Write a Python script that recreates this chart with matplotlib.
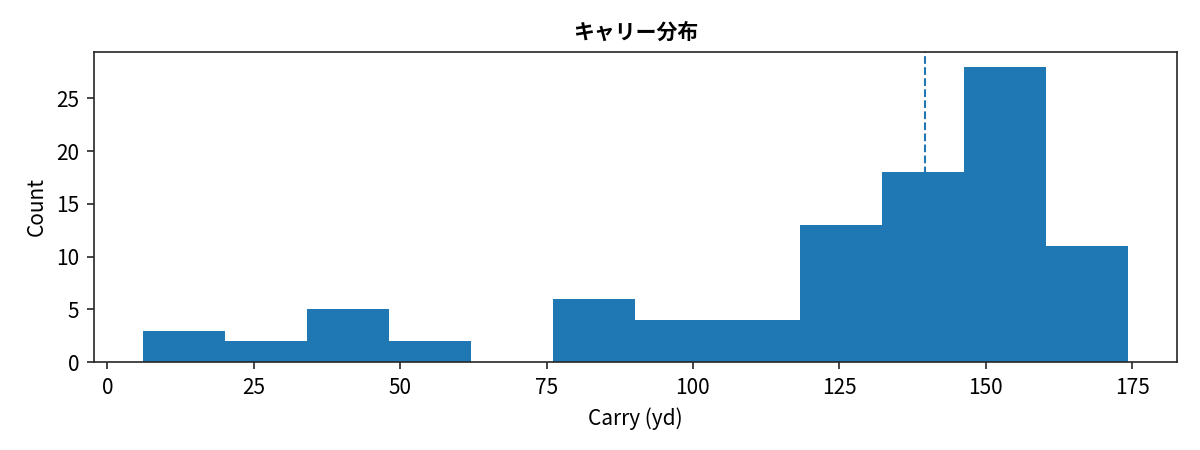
import numpy as np
import matplotlib
matplotlib.use('Agg')
import matplotlib.pyplot as plt

plt.rcParams['font.family'] = ['Noto Sans CJK JP', 'DejaVu Sans']

# Histogram: 12 bins from ~6 to ~174 yd
bin_start = 6.05
bin_end = 174.3
counts = [3, 2, 5, 2, 0, 6, 4, 4, 13, 18, 28, 11]
median_carry = 139.7

edges = np.linspace(bin_start, bin_end, len(counts) + 1)

fig, ax = plt.subplots(figsize=(8, 3), dpi=150)
ax.hist(edges[:-1], bins=edges, weights=counts, color='#1f77b4', zorder=2)
ax.axvline(median_carry, color='#1f77b4', linestyle='--', linewidth=1.0, zorder=1)

ax.set_title('キャリー分布', fontsize=10, fontweight='bold')
ax.set_xlabel('Carry (yd)', fontsize=10)
ax.set_ylabel('Count', fontsize=10)
ax.tick_params(labelsize=10, color='#262626')
for s in ax.spines.values():
    s.set_color('#262626')

fig.subplots_adjust(left=0.078, right=0.981, top=0.885, bottom=0.195)
fig.savefig('out.png')
